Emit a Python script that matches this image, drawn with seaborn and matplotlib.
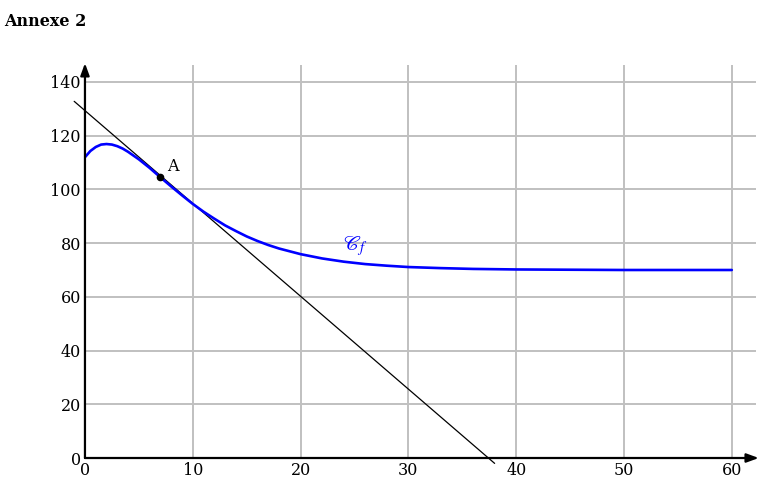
import numpy as np
import pandas as pd
import matplotlib
matplotlib.use("Agg")
import matplotlib.pyplot as plt
import seaborn as sns

# values
t_vals = [0, 0.5, 1, 1.5, 2, 2.5, 3, 3.5, 4, 5, 6, 7, 8, 9, 10, 11, 12, 13, 14,
          15, 16, 17, 18, 20, 22, 24, 26, 28, 30, 33, 36, 40, 45, 50, 55, 60]
f_vals = [112.0, 114.3, 115.8, 116.7, 116.9, 116.7, 116.1, 115.2, 114.0, 111.2,
          108.0, 104.5, 101.1, 97.8, 94.6, 91.7, 89.1, 86.6, 84.5, 82.5, 80.8,
          79.3, 78.0, 75.9, 74.3, 73.1, 72.2, 71.6, 71.1, 70.7, 70.4, 70.2,
          70.1, 70.0, 70.0, 70.0]

tangent_x = [-1, 38]
tangent_y = [132.8, -2.0]

point_A = (7, 104.5)

x_ticks = [0, 10, 20, 30, 40, 50, 60]
y_ticks = [0, 20, 40, 60, 80, 100, 120, 140]

curve = pd.DataFrame({"t": t_vals, "f": f_vals})
tangent = pd.DataFrame({"x": tangent_x, "y": tangent_y})

sns.set_theme(style="white")
plt.rcParams["font.family"] = ["DejaVu Serif"]
plt.rcParams["mathtext.fontset"] = "stix"
plt.rcParams["text.color"] = "black"
plt.rcParams["xtick.color"] = "black"
plt.rcParams["ytick.color"] = "black"

fig = plt.figure(figsize=(7.62, 4.9), dpi=100)
ax = fig.add_axes([0.1115, 0.0653, 0.880, 0.803])

xmax, ymax = 62.2, 146.5
ax.set_xlim(0, xmax)
ax.set_ylim(0, ymax)

# grid (only in the positive quadrant)
grid_kw = dict(color="#c0c0c0", lw=1.4, zorder=0)
ax.hlines(y_ticks[1:], 0, xmax, **grid_kw)
ax.vlines(x_ticks[1:], 0, ymax, **grid_kw)

sns.lineplot(data=tangent, x="x", y="y", ax=ax, color="black", lw=0.9,
             sort=False, clip_on=False, zorder=2)
sns.lineplot(data=curve, x="t", y="f", ax=ax, color="#0000ff", lw=1.9,
             sort=False, zorder=3)
ax.plot(*point_A, "o", color="black", ms=4.5, zorder=4)
ax.text(point_A[0] + 0.6, point_A[1] + 2.5, "A", fontsize=11.5)
ax.text(23.9, 77.5, r"$\mathscr{C}_f$", fontsize=15, color="#0000ff")

# axes with arrows
for s in ax.spines.values():
    s.set_visible(False)
arrow_kw = dict(arrowstyle="-|>,head_length=0.6,head_width=0.22",
                color="black", lw=1.6, shrinkA=0, shrinkB=0)
ax.annotate("", xy=(xmax + 0.3, 0), xytext=(0, 0), arrowprops=arrow_kw,
            annotation_clip=False)
ax.annotate("", xy=(0, ymax + 0.5), xytext=(0, 0), arrowprops=arrow_kw,
            annotation_clip=False)

ax.set_xticks(x_ticks)
ax.set_yticks(y_ticks)
ax.tick_params(length=0, labelsize=11.5, pad=3)
ax.set_xlabel("")
ax.set_ylabel("")

fig.text(0.006, 0.957, "Annexe 2", fontsize=11.5, fontweight="bold",
         va="center", ha="left")

fig.savefig("out.png", dpi=100)
